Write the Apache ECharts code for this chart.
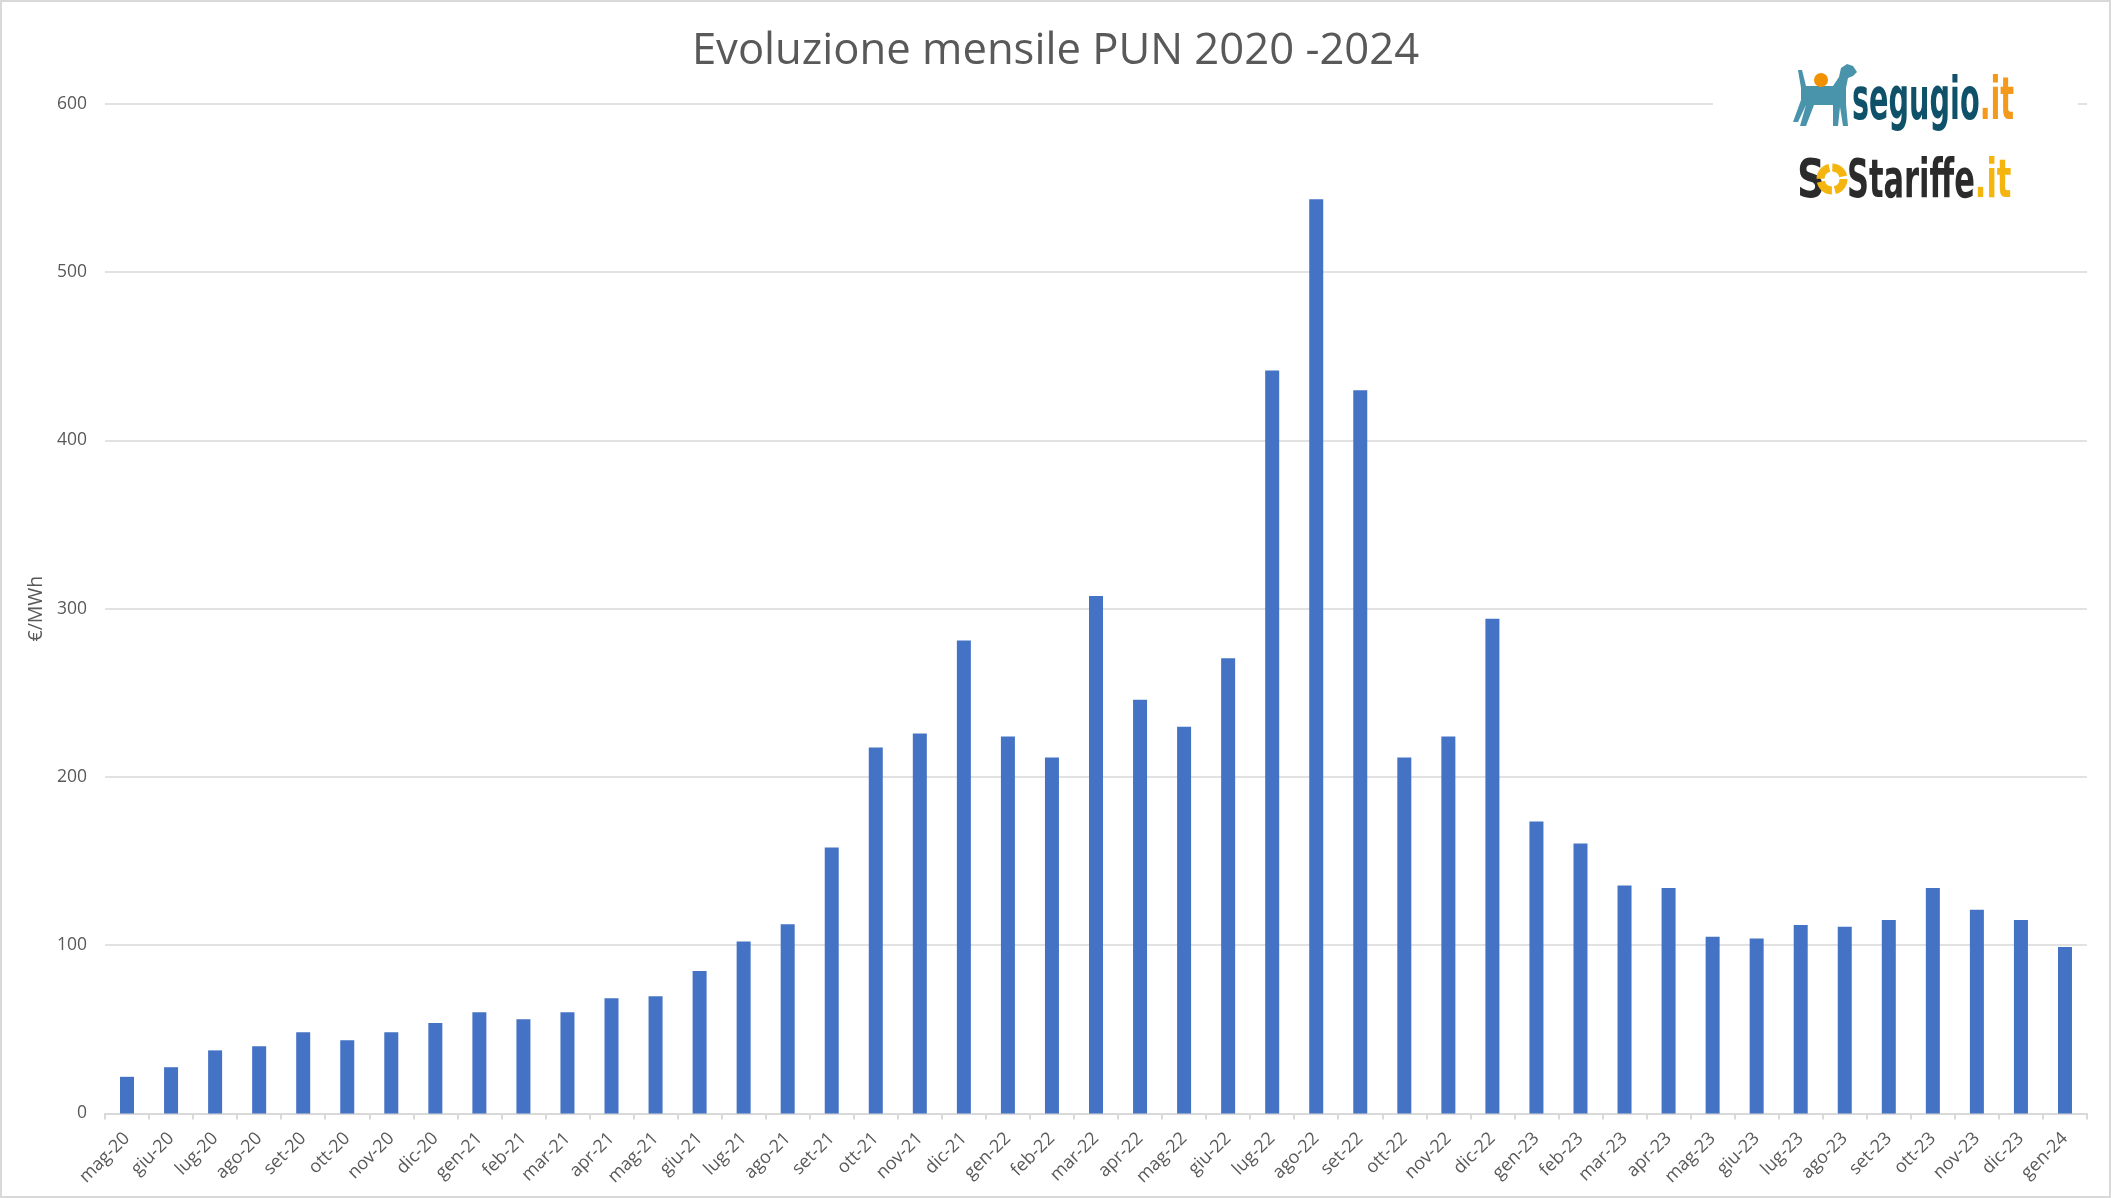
<!DOCTYPE html>
<html>
<head>
<meta charset="utf-8">
<script src="https://cdn.jsdelivr.net/npm/echarts@6/dist/echarts.min.js"></script>
<style>
html,body{margin:0;padding:0;background:#fff;}
#c{width:2111px;height:1198px;}
</style>
</head>
<body>
<div id="c"></div>
<script>
const titleText = 'Evoluzione mensile PUN 2020 -2024';
const yAxisName = '€/MWh';
const categories = ['mag-20','giu-20','lug-20','ago-20','set-20','ott-20','nov-20','dic-20',
 'gen-21','feb-21','mar-21','apr-21','mag-21','giu-21','lug-21','ago-21','set-21','ott-21','nov-21','dic-21',
 'gen-22','feb-22','mar-22','apr-22','mag-22','giu-22','lug-22','ago-22','set-22','ott-22','nov-22','dic-22',
 'gen-23','feb-23','mar-23','apr-23','mag-23','giu-23','lug-23','ago-23','set-23','ott-23','nov-23','dic-23',
 'gen-24'];
const values = [21.8, 27.5, 37.5, 40, 48.3, 43.5, 48.3, 53.7,
 60.2, 56, 60.2, 68.5, 69.6, 84.6, 102.2, 112.4, 158, 217.5, 225.8, 281,
 224, 211.5, 307.5, 245.8, 229.8, 270.5, 441.5, 543.2, 429.8, 211.5, 224, 294,
 173.5, 160.5, 135.5, 134, 105, 104, 112, 111, 115, 134, 121, 115,
 99];
const yTicks = {min: 0, max: 600, interval: 100};

const chart = echarts.init(document.getElementById('c'), null, {renderer: 'canvas'});
const dogPts = [[5,6],[9,6],[13,22],[40,22],[46,13],[48,4],[54,0],[60,2],[64,8],[60,12],[55,14],[53,24],[53,40],[55,62],[50,62],[47,43],[45,62],[40,62],[40,41],[21,41],[13,62],[7,62],[13,41],[5,58],[0,58],[8,36],[8,24]]
  .map(p => [p[0] + 1793, p[1] + 64]);
const logoFont = 'Liberation Sans Narrow, DejaVu Sans Condensed, Liberation Sans';
const option = {
  backgroundColor: '#ffffff',
  animation: false,
  title: {
    text: titleText,
    left: 'center',
    top: 25,
    textStyle: {fontFamily: 'Open Sans', fontSize: 43.6, fontWeight: 'normal', color: '#595959'}
  },
  grid: {left: 105, right: 24, top: 103.7, bottom: 84.5, containLabel: false},
  xAxis: {
    type: 'category',
    data: categories,
    boundaryGap: true,
    axisLine: {show: true, lineStyle: {color: '#d9d9d9', width: 2}},
    axisTick: {show: true, alignWithLabel: false, length: 6, lineStyle: {color: '#d9d9d9', width: 2}},
    axisLabel: {rotate: 45, interval: 0, margin: 22, fontFamily: 'Open Sans', fontSize: 18, color: '#595959'}
  },
  yAxis: {
    type: 'value',
    min: yTicks.min, max: yTicks.max, interval: yTicks.interval,
    name: yAxisName,
    nameLocation: 'middle',
    nameGap: 54,
    nameRotate: 90,
    nameTextStyle: {fontFamily: 'Open Sans', fontSize: 19.5, color: '#595959'},
    axisLine: {show: false},
    axisTick: {show: false},
    splitLine: {lineStyle: {color: '#d9d9d9', width: 1.5}},
    axisLabel: {margin: 18, fontFamily: 'Open Sans', fontSize: 17.5, color: '#595959'}
  },
  series: [{
    type: 'bar',
    data: values,
    barWidth: 14,
    itemStyle: {color: '#4472c4'}
  }],
  graphic: [
    {type: 'rect', z: 100, shape: {x: 1, y: 1, width: 2109, height: 1196}, style: {fill: 'none', stroke: '#d9d9d9', lineWidth: 2}},
    {type: 'rect', z: 50, shape: {x: 1713, y: 60, width: 365, height: 152}, style: {fill: '#ffffff'}},
    {type: 'polygon', z: 51, shape: {points: dogPts}, style: {fill: '#4a94ab'}},
    {type: 'circle', z: 52, shape: {cx: 1821, cy: 80, r: 7}, style: {fill: '#f39200'}},
    {type: 'text', z: 52, x: 1852, y: 133, scaleX: 0.55,
      style: {text: '{a|segugio}{b|.it}', textVerticalAlign: 'bottom', rich: {
        a: {fontFamily: logoFont, fontWeight: 'bold', fontSize: 58, fill: '#0f5169', color: '#0f5169'},
        b: {fontFamily: logoFont, fontWeight: 'bold', fontSize: 58, fill: '#f39a1c', color: '#f39a1c'}
      }}},
    {type: 'text', z: 52, x: 1797, y: 210, scaleX: 0.8,
      style: {text: 'S', textVerticalAlign: 'bottom', fontFamily: logoFont, fontWeight: 'bold', fontSize: 54, fill: '#2b2b2b'}},
    {type: 'circle', z: 52, shape: {cx: 1832, cy: 179, r: 11.5}, style: {fill: 'none', stroke: '#f5b50f', lineWidth: 8, lineDash: [15, 3.06]}},
    {type: 'text', z: 52, x: 1847, y: 210, scaleX: 0.627,
      style: {text: '{a|Stariffe}{b|.it}', textVerticalAlign: 'bottom', rich: {
        a: {fontFamily: logoFont, fontWeight: 'bold', fontSize: 54, fill: '#2b2b2b', color: '#2b2b2b'},
        b: {fontFamily: logoFont, fontWeight: 'bold', fontSize: 54, fill: '#f5b50f', color: '#f5b50f'}
      }}}
  ]
};
chart.setOption(option);
</script>
</body>
</html>
